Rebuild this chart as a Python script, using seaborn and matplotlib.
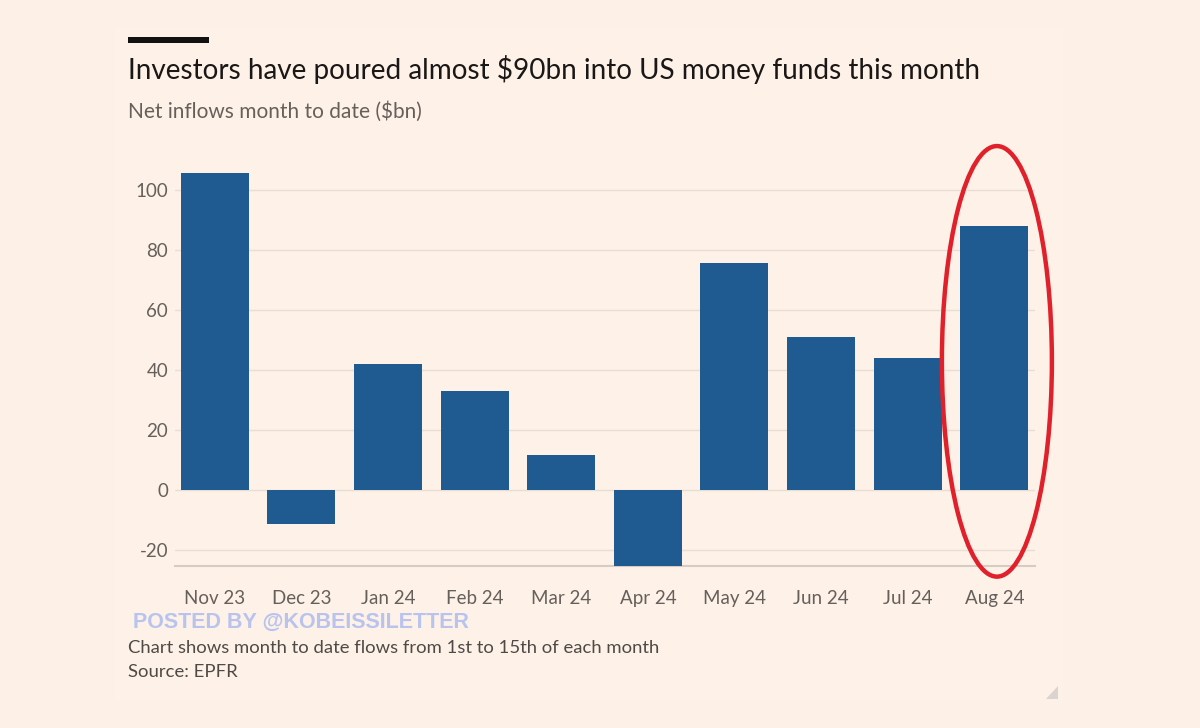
import matplotlib
matplotlib.use("Agg")
import matplotlib.pyplot as plt
import seaborn as sns
import pandas as pd
from matplotlib.patches import Ellipse, Rectangle, Polygon

months = ["Nov 23", "Dec 23", "Jan 24", "Feb 24", "Mar 24", "Apr 24",
          "May 24", "Jun 24", "Jul 24", "Aug 24"]
inflows = [105.5, -11.5, 42.0, 33.0, 11.5, -26.0, 75.5, 51.0, 44.0, 88.0]
yticks = [-20, 0, 20, 40, 60, 80, 100]

title = "Investors have poured almost $90bn into US money funds this month"
subtitle = "Net inflows month to date ($bn)"
note = "Chart shows month to date flows from 1st to 15th of each month"
source = "Source: EPFR"
watermark = "POSTED BY @KOBEISSILETTER"

BG = "#fdf0e6"
BAR = "#1f5a91"
GRID = "#e9ded4"
TXT = "#66605c"
FONT = ["Lato", "DejaVu Sans"]

sns.set_theme(style="white")
plt.rcParams["font.family"] = FONT

df = pd.DataFrame({"month": months, "inflow": inflows})

fig = plt.figure(figsize=(12, 7.28), dpi=100, facecolor=BG)
W, H = 1200, 728

# faint panel
fig.patches.append(Rectangle((115 / W, 1 - 700 / H), (1063 - 115) / W, (700 - 28) / H,
                             transform=fig.transFigure, facecolor="#fef1e7",
                             edgecolor="none", zorder=-5))

ax = fig.add_axes([175 / W, 1 - 566 / H, (1035 - 175) / W, (566 - 160) / H])
ax.set_facecolor("none")
ax.set_zorder(2)

sns.barplot(data=df, x="month", y="inflow", color=BAR, width=0.785,
            saturation=1, linewidth=0, ax=ax, zorder=3)

ax.set_ylim(-25.5, 110)
ax.set_xlim(-0.46, 9.47)
ax.set_yticks(yticks)
ax.set_yticklabels([str(v) for v in yticks])
ax.set_xlabel("")
ax.set_ylabel("")
for y in yticks:
    ax.axhline(y, color=GRID, linewidth=1.0, zorder=1)

for s in ["top", "right", "left"]:
    ax.spines[s].set_visible(False)
ax.spines["bottom"].set_color("#d6ccc4")
ax.spines["bottom"].set_linewidth(1.5)
ax.tick_params(axis="x", length=11.5, width=1.0, color="#d6ccc4", pad=6,
               labelsize=13.5, labelcolor=TXT)
ax.tick_params(axis="y", length=0, pad=5, labelsize=13.5, labelcolor=TXT)

# highlight ellipse around the last bar
ax.add_patch(Ellipse((9.03, 42.8), 1.27, 143.7, fill=False, edgecolor="#e0202a",
                     linewidth=3.2, clip_on=False, zorder=5))

# header
fig.patches.append(Rectangle((128 / W, 1 - 43 / H), 81 / W, 6 / H,
                             transform=fig.transFigure, facecolor="#111111",
                             edgecolor="none"))
fig.text(128 / W, 1 - 70 / H, title, fontsize=20.1, color="#1a1817",
         va="center", ha="left")
fig.text(128 / W, 1 - 112 / H, subtitle, fontsize=15, color=TXT,
         va="center", ha="left")

fig.text(133 / W, 1 - 622 / H, watermark, fontsize=15.5, color="#b8c4ee",
         fontweight="bold", family=["Liberation Sans", "DejaVu Sans"],
         va="center", ha="left")
fig.text(128 / W, 1 - 648 / H, note, fontsize=13.3, color="#4e4a47",
         va="center", ha="left")
fig.text(128 / W, 1 - 672 / H, source, fontsize=13.3, color="#4e4a47",
         va="center", ha="left")

# resize grip
fig.patches.append(Polygon([(1058 / W, 1 - 686 / H), (1058 / W, 1 - 699 / H),
                            (1046 / W, 1 - 699 / H)], closed=True,
                           transform=fig.transFigure, facecolor="#d9d4cf",
                           edgecolor="none"))

fig.savefig("out.png", dpi=100, facecolor=BG)
